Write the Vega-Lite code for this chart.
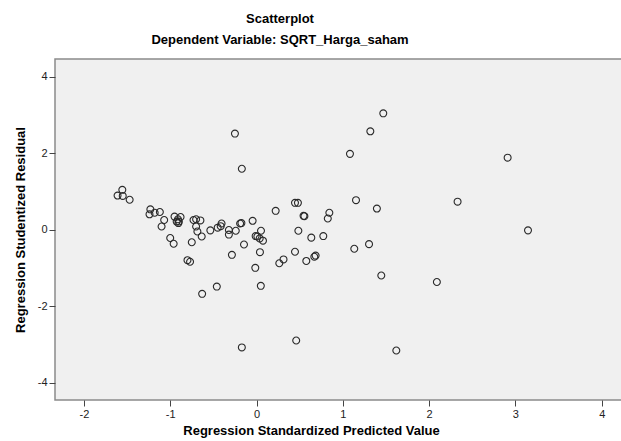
{
  "$schema": "https://vega.github.io/schema/vega-lite/v6.json",
  "autosize": {"type": "none"},
  "padding": {"left": 55, "top": 59, "right": 0, "bottom": 41},
  "width": 570,
  "height": 341,
  "background": "white",
  "title": {
    "text": "Scatterplot",
    "subtitle": "Dependent Variable: SQRT_Harga_saham",
    "font": "Liberation Sans",
    "fontSize": 13,
    "fontWeight": "bold",
    "color": "#000000",
    "subtitleFont": "Liberation Sans",
    "subtitleFontSize": 13,
    "subtitleFontWeight": "bold",
    "subtitleColor": "#000000",
    "subtitlePadding": 8,
    "anchor": "middle",
    "dx": -60,
    "offset": 12
  },
  "config": {
    "view": {"fill": "#f0f0f0", "stroke": "#8a8a8a", "strokeWidth": 1.5},
    "axis": {
      "labelFont": "Liberation Sans",
      "labelFontSize": 11,
      "labelColor": "#222222",
      "titleFont": "Liberation Sans",
      "titleFontSize": 13,
      "titleFontWeight": "bold",
      "titleColor": "#000000",
      "tickColor": "#444444",
      "tickSize": 6,
      "domain": false,
      "grid": false,
      "labelExpr": "'' + datum.value"
    }
  },
  "data": {
    "values": [
      {"pred": -1.61, "resid": 0.90},
      {"pred": -1.555, "resid": 1.05},
      {"pred": -1.55, "resid": 0.89},
      {"pred": -1.47, "resid": 0.79},
      {"pred": -1.23, "resid": 0.54},
      {"pred": -1.24, "resid": 0.41},
      {"pred": -1.18, "resid": 0.45},
      {"pred": -1.12, "resid": 0.47},
      {"pred": -1.07, "resid": 0.26},
      {"pred": -1.10, "resid": 0.09},
      {"pred": -1.00, "resid": -0.21},
      {"pred": -0.96, "resid": -0.36},
      {"pred": -0.95, "resid": 0.35},
      {"pred": -0.91, "resid": 0.28},
      {"pred": -0.925, "resid": 0.22},
      {"pred": -0.90, "resid": 0.22},
      {"pred": -0.88, "resid": 0.34},
      {"pred": -0.905, "resid": 0.18},
      {"pred": -0.75, "resid": -0.32},
      {"pred": -0.73, "resid": 0.26},
      {"pred": -0.70, "resid": 0.28},
      {"pred": -0.65, "resid": 0.25},
      {"pred": -0.70, "resid": 0.09},
      {"pred": -0.685, "resid": -0.04},
      {"pred": -0.635, "resid": -0.17},
      {"pred": -0.535, "resid": -0.01},
      {"pred": -0.45, "resid": 0.06},
      {"pred": -0.415, "resid": 0.10},
      {"pred": -0.405, "resid": 0.17},
      {"pred": -0.32, "resid": 0.00},
      {"pred": -0.32, "resid": -0.12},
      {"pred": -0.24, "resid": -0.02},
      {"pred": -0.19, "resid": 0.17},
      {"pred": -0.175, "resid": 0.18},
      {"pred": -0.045, "resid": 0.24},
      {"pred": -0.145, "resid": -0.38},
      {"pred": -0.01, "resid": -0.16},
      {"pred": 0.01, "resid": -0.17},
      {"pred": 0.037, "resid": -0.22},
      {"pred": 0.075, "resid": -0.28},
      {"pred": 0.052, "resid": -0.02},
      {"pred": 0.222, "resid": 0.50},
      {"pred": 0.446, "resid": 0.71},
      {"pred": 0.48, "resid": 0.71},
      {"pred": 0.545, "resid": 0.37},
      {"pred": 0.555, "resid": 0.36},
      {"pred": 0.485, "resid": -0.02},
      {"pred": 0.635, "resid": -0.20},
      {"pred": 0.774, "resid": -0.16},
      {"pred": 0.844, "resid": 0.45},
      {"pred": 0.826, "resid": 0.30},
      {"pred": 1.153, "resid": 0.78},
      {"pred": 1.395, "resid": 0.56},
      {"pred": 1.133, "resid": -0.49},
      {"pred": 1.304, "resid": -0.37},
      {"pred": -0.285, "resid": -0.65},
      {"pred": 0.04, "resid": -0.58},
      {"pred": 0.446, "resid": -0.57},
      {"pred": -0.80, "resid": -0.79},
      {"pred": -0.77, "resid": -0.83},
      {"pred": -0.014, "resid": -0.99},
      {"pred": 0.264, "resid": -0.87},
      {"pred": 0.313, "resid": -0.77},
      {"pred": 0.577, "resid": -0.81},
      {"pred": 0.67, "resid": -0.70},
      {"pred": 0.685, "resid": -0.67},
      {"pred": -0.46, "resid": -1.48},
      {"pred": -0.63, "resid": -1.67},
      {"pred": 0.05, "resid": -1.46},
      {"pred": -0.17, "resid": -3.07},
      {"pred": 0.46, "resid": -2.89},
      {"pred": 1.62, "resid": -3.15},
      {"pred": 1.446, "resid": -1.19},
      {"pred": 2.09, "resid": -1.36},
      {"pred": 3.146, "resid": -0.01},
      {"pred": 2.33, "resid": 0.74},
      {"pred": 2.91, "resid": 1.89},
      {"pred": 1.083, "resid": 1.99},
      {"pred": 1.319, "resid": 2.58},
      {"pred": 1.469, "resid": 3.05},
      {"pred": -0.25, "resid": 2.52},
      {"pred": -0.17, "resid": 1.60}
    ]
  },
  "mark": {
    "type": "point",
    "shape": "circle",
    "filled": false,
    "stroke": "#2a2a2a",
    "strokeWidth": 1.1,
    "opacity": 1,
    "size": 48
  },
  "encoding": {
    "x": {
      "field": "pred",
      "type": "quantitative",
      "scale": {"domain": [-2.335, 4.27], "nice": false, "zero": false},
      "axis": {
        "values": [-2, -1, 0, 1, 2, 3, 4],
        "title": "Regression Standardized Predicted Value",
        "titleX": 256,
        "titleY": 34,
        "titleAlign": "center",
        "titleBaseline": "alphabetic",
        "labelPadding": 2
      }
    },
    "y": {
      "field": "resid",
      "type": "quantitative",
      "scale": {"domain": [-4.445, 4.47], "nice": false, "zero": false},
      "axis": {
        "values": [-4, -2, 0, 2, 4],
        "title": "Regression Studentized Residual",
        "titlePadding": 10,
        "labelPadding": 2
      }
    }
  }
}
